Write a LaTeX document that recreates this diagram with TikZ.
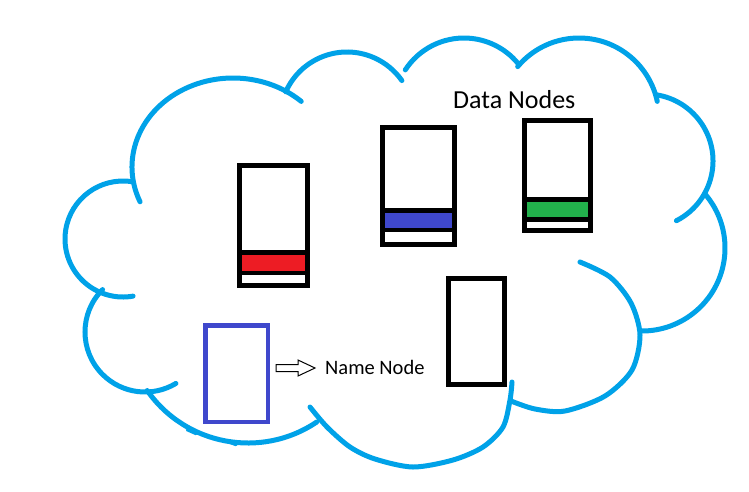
\documentclass[tikz,border=0pt]{standalone}
\usepackage{fontspec}
\setmainfont{Carlito}
\definecolor{cloudblue}{HTML}{00A2E8}
\definecolor{pred}{HTML}{ED1C24}
\definecolor{pblue}{HTML}{3F48CC}
\definecolor{pgreen}{HTML}{22B14C}
\tikzset{
  lobe/.style={draw=cloudblue, line width=5pt, line cap=round},
  spur/.style={draw=cloudblue, line width=2.5pt, line cap=round},
  box/.style={draw=black, line width=5pt},
  namebox/.style={draw=pblue, line width=4.5pt},
  label/.style={anchor=base west, inner sep=0pt, text=black},
}
\begin{document}
\begin{tikzpicture}[x=1pt,y=-1pt]
\useasboundingbox (0,0) rectangle (749,491);
\fill[white] (0,0) rectangle (749,491);
% cloud lobes
\draw[lobe] (233,167) ++(157:101 and 89) arc[start angle=157, end angle=312.5, x radius=101, y radius=89];
\draw[lobe] (123,239) ++(-81:58) arc[start angle=-81, end angle=-280, radius=58];
\draw[lobe] (347,119) ++(-156:67) arc[start angle=-156, end angle=-35, radius=67];
\draw[lobe] (464,108) ++(-147:70) arc[start angle=-147, end angle=-40, radius=70];
\draw[lobe] (579,118) ++(-140:80) arc[start angle=-140, end angle=-12, radius=80];
\draw[lobe] (646,161) ++(-81:67) arc[start angle=-81, end angle=63, radius=67];
\draw[lobe] (642,248) ++(-41:83) arc[start angle=-41, end angle=91, radius=83];
\draw[lobe] plot[smooth] coordinates {(580,262) (610,277) (631,303) (640,335) (632,370) (605,396) (565,411) (535,409) (511,401)};
\draw[lobe] plot[smooth] coordinates {(512,382) (510,400) (503,427) (483,447) (453,460) (413,467) (375,459) (350,447) (327,427) (310,407)};
\draw[lobe] (248,320) ++(145:123) arc[start angle=145, end angle=56, radius=123];
\draw[lobe] (145,332) ++(225:60) arc[start angle=225, end angle=59, radius=60];
% small spurs on the lower-left lobe
\draw[spur] (187,430) -- (196,434);
\draw[spur] (228,442) -- (236,445);
% data node 1 (red)
\fill[black] (237,250) rectangle (310,275);
\fill[pred] (242,255) rectangle (305,271);
\draw[box] (239.5,165.5) rectangle (307.5,285.5);
% data node 2 (blue)
\fill[black] (380,208) rectangle (457,232);
\fill[pblue] (385,213) rectangle (452,228);
\draw[box] (382.5,127.5) rectangle (454.5,244.5);
% data node 3 (green)
\fill[black] (522,197) rectangle (593,222);
\fill[pgreen] (527,202) rectangle (588,217);
\draw[box] (524.5,120.5) rectangle (590.5,230.5);
% plain box
\draw[box] (448.5,278.5) rectangle (504.5,384.5);
% name node box
\draw[namebox] (205.25,325.25) rectangle (267.75,421.75);
% hollow arrow
\draw[black, line width=1pt, line join=miter] (276,364.5) -- (298,364.5) -- (298,360) -- (315,368) -- (298,376) -- (298,371.5) -- (276,371.5) -- cycle;
% labels
\node[label, font=\fontsize{20.5}{24}\selectfont] (nn) at (325,374) {Name Node};
\node[label, font=\fontsize{26}{31}\selectfont] (dn) at (453,108) {Data Nodes};
\end{tikzpicture}
\end{document}
